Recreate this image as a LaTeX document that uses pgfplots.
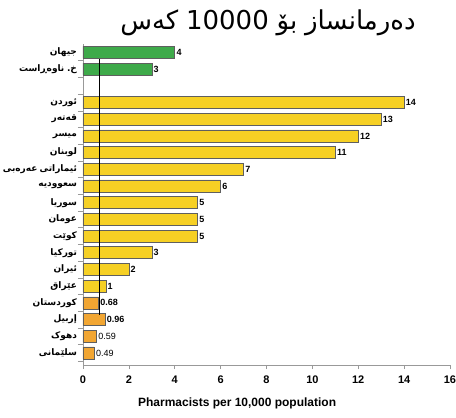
\documentclass[border=0pt]{standalone}
\usepackage{fontspec}
\setmainfont{Liberation Sans}
\newfontfamily\kfont[Script=Arabic]{DejaVu Sans}
\newcommand{\w}[1]{\hbox{\kfont #1}}
\usepackage{pgfplots}
\pgfplotsset{compat=1.18}
\definecolor{cgreen}{RGB}{62,170,74}
\definecolor{cyellow}{RGB}{246,208,36}
\definecolor{corange}{RGB}{242,166,50}
\definecolor{cedge}{RGB}{95,95,95}
\begin{document}
\begin{tikzpicture}
\path[use as bounding box] (-83pt,-53pt) rectangle (373pt,365pt);
\begin{axis}[
  scale only axis, width=367pt, height=320.6pt,
  xmin=0, xmax=16, ymin=-0.72, ymax=18.48,
  bar width=12pt,
  axis x line*=bottom, axis y line*=left,
  axis line style={gray!80, line width=0.6pt},
  xtick={0,2,...,16},
  xticklabel style={font=\bfseries\fontsize{11}{11}\selectfont, yshift=-3pt},
  /pgf/number format/assume math mode=true,
  tick align=outside,
  major tick length=4pt,
  tick style={gray!80, line width=0.6pt},
  ytick={0,1,2,3,4,5,6,7,8,9,10,11,12,13,14,15,17,18},
  yticklabels={\w{سلێمانی},\w{دهوک},\w{إربیل},\w{کوردستان},\w{عێراق},\w{ئیران},\w{تورکیا},\w{کوێت},\w{عومان},\w{سوریا},\w{سعوودیه},{\w{عەرەبی}\hspace{0.25em}\w{ئیماراتی}},\w{لوبنان},\w{میسر},\w{قەتەر},\w{ئوردن},{\w{ناوەڕاست}\hspace{0.3em}\w{.}\w{خ}},\w{جیهان}},
  yticklabel style={font=\bfseries\fontsize{9}{10}\selectfont, xshift=1.5pt},
  y tick style={draw=none},
  minor ytick={-0.5,0.5,...,18.5},
  minor y tick style={draw=gray!80, line width=0.6pt},
  minor tick length=5pt,
  xlabel={Pharmacists per 10,000 population},
  x label style={font=\bfseries\fontsize{12}{12}\selectfont, at={(axis description cs:0.42,0)}, anchor=center, yshift=-38pt},
  title={\fontsize{26}{26}\selectfont\w{کەس}\hspace{0.3em}\w{10000}\hspace{0.3em}\w{بۆ}\hspace{0.3em}\w{دەرمانساز}},
  title style={at={(axis description cs:0.504,1.05)}, anchor=center},
  clip=false,
  nodes near coords style={anchor=west, inner sep=1.5pt, font=\bfseries\fontsize{9}{9}\selectfont},
]
\addplot[xbar, fill=cgreen, draw=cedge, line width=0.6pt, nodes near coords, point meta=explicit symbolic] table[meta=lab] {
x y lab
4 18 4
3 17 3
};
\addplot[xbar, fill=cyellow, draw=cedge, line width=0.6pt, nodes near coords, point meta=explicit symbolic] table[meta=lab] {
x y lab
14 15 14
13 14 13
12 13 12
11 12 11
7 11 7
6 10 6
5 9 5
5 8 5
5 7 5
3 6 3
2 5 2
1 4 1
};
\addplot[xbar, fill=corange, draw=cedge, line width=0.6pt, nodes near coords, point meta=explicit symbolic] table[meta=lab] {
x y lab
0.68 3 0.68
0.96 2 0.96
};
\addplot[xbar, fill=corange, draw=cedge, line width=0.6pt, nodes near coords, point meta=explicit symbolic, nodes near coords style={font=\fontsize{9}{9}\selectfont}] table[meta=lab] {
x y lab
0.59 1 0.59
0.49 0 0.49
};
\addplot[black, line width=1.8pt, no marks] coordinates {(0.72,17.6) (0.72,2.3)};
\end{axis}
\end{tikzpicture}
\end{document}
